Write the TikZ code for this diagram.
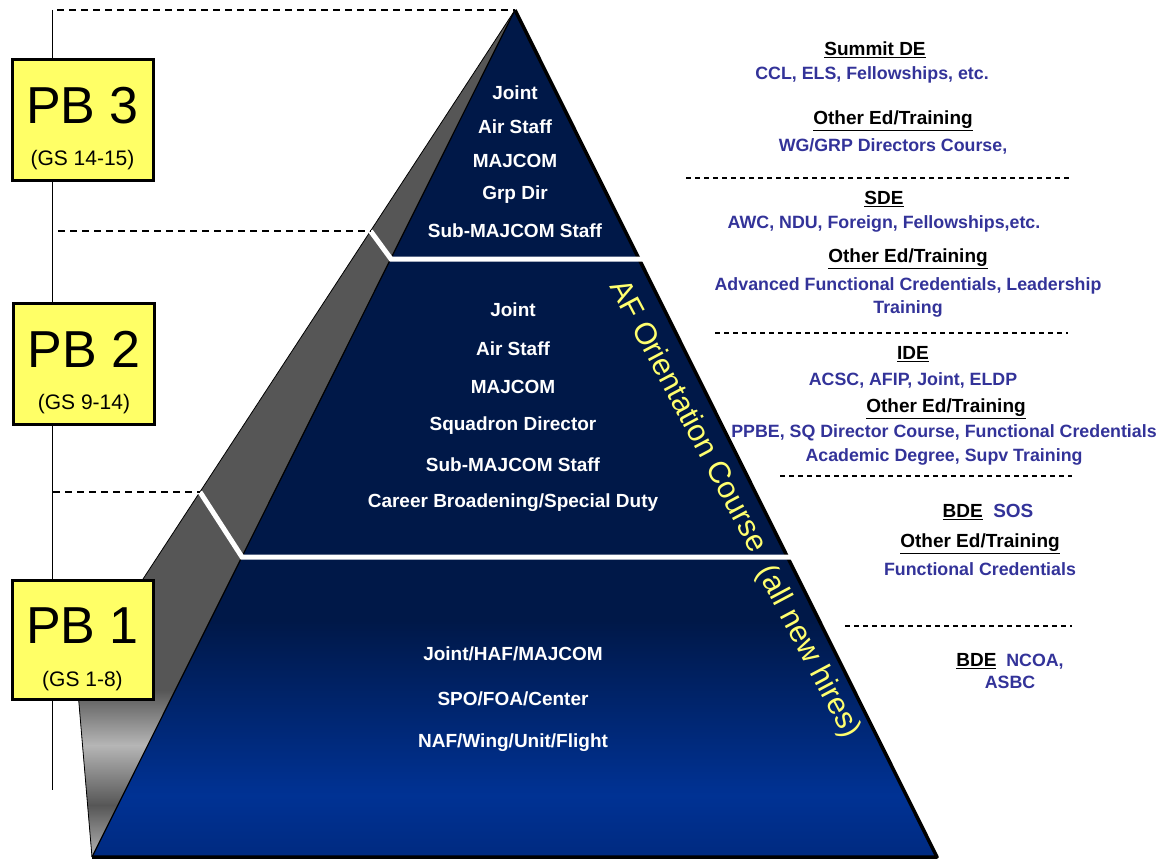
\documentclass[tikz,border=0pt]{standalone}
\usepackage{fontspec}
\setmainfont{Liberation Sans}
\usetikzlibrary{calc}

\definecolor{pbyellow}{RGB}{255,255,102}
\definecolor{navy}{RGB}{0,24,72}
\definecolor{deepblue}{RGB}{0,50,148}
\definecolor{botblue}{RGB}{0,42,128}
\definecolor{edblue}{RGB}{51,51,153}
\definecolor{shgray}{RGB}{86,86,86}
\definecolor{ltgray}{RGB}{182,182,182}
\definecolor{orientyellow}{RGB}{255,255,110}

\begin{document}
\begin{tikzpicture}[x=1pt, y=-1pt, node distance=34pt,
    pbbox/.style={draw, line width=3pt, fill=pbyellow, minimum width=141pt, minimum height=120pt, inner sep=0pt},
    pbtitle/.style={anchor=base, font=\fontsize{52}{52}\selectfont},
    pbgrade/.style={anchor=base, font=\fontsize{21}{24}\selectfont},
    rung/.style={text=white, font=\fontsize{19}{22}\selectfont\bfseries, inner sep=0pt},
    edhead/.style={font=\fontsize{19}{22}\selectfont\bfseries, inner sep=0pt},
    edtext/.style={text=edblue, font=\fontsize{17.8}{24}\selectfont\bfseries, inner sep=0pt, align=center},
    orientxt/.style={text=orientyellow, font=\fontsize{30.5}{32}\selectfont, rotate=-62, inner sep=0pt},
    edsplit/.style={dash pattern=on 5pt off 4pt, line width=1.1pt},
    gsline/.style={dash pattern=on 7pt off 5pt, line width=1.2pt}]

    \useasboundingbox (0,0) rectangle (1160,859);

    \coordinate (apex) at (515,10);
    \coordinate (bl) at (92,857);
    \coordinate (br) at (937,857);
    \coordinate (shc) at (77,680);
    \coordinate (s3) at (370.5,231);
    \coordinate (f3) at (391,259);
    \coordinate (r3) at (643,259);
    \coordinate (s2) at (200,492);
    \coordinate (f2) at (242,557);
    \coordinate (r2) at (792,557);
    \coordinate (gtop) at (52,10);
    \coordinate (gbot) at (52,790);

    % shadow side
    \fill[shgray] (apex) -- (shc) -- (bl) -- cycle;
    \begin{scope}
        \clip (apex) -- (shc) -- (bl) -- cycle;
        \shade[top color=shgray, bottom color=ltgray] (0,690) rectangle (600,745.5);
        \shade[top color=ltgray, bottom color=shgray] (0,745) rectangle (600,805.5);
        \shade[top color=shgray, bottom color=ltgray] (0,805) rectangle (600,858);
    \end{scope}
    \draw[line width=0.8pt] (apex) -- (shc) -- (bl);

    % front face
    \fill[navy] (apex) -- (bl) -- (br) -- cycle;
    \begin{scope}
        \clip (apex) -- (bl) -- (br) -- cycle;
        \shade[top color=navy, bottom color=deepblue] (0,620) rectangle (1000,795.5);
        \shade[top color=deepblue, bottom color=botblue] (0,795) rectangle (1000,858);
    \end{scope}
    \draw[line width=1.2pt] (apex) -- (bl);
    \draw[line width=3.5pt, line join=round] (bl) -- (br) -- (apex);

    \draw[white, line width=5pt] (s3) -- (f3) -- (r3);
    \draw[white, line width=5pt] (s2) -- (f2) -- (r2);

    % grade scale
    \draw[line width=1pt] (gtop) -- (gbot);
    \draw[gsline] (57,10) -- (apex);
    \draw[gsline] (58,231) -- (s3);
    \draw[gsline] (53,492) -- (s2);

    \node (pb3) [pbbox] at (82.5,120) {};
    \node (pb3t) [pbtitle] at (82.5,123) {PB 3};
    \node (pb3g) [pbgrade] at (82.5,165) {(GS 14-15)};

    \node (pb2) [pbbox, minimum height=121pt] at (84,363.5) {};
    \node (pb2t) [pbtitle] at (84,367) {PB 2};
    \node (pb2g) [pbgrade] at (84,409) {(GS 9-14)};

    \node (pb1) [pbbox, minimum height=119pt] at (82.5,639.5) {};
    \node (pb1t) [pbtitle] at (82.5,643) {PB 1};
    \node (pb1g) [pbgrade] at (82.5,686) {(GS 1-8)};

    % positions in the pyramid
    \node (a1) [rung] at (515,93) {Joint};
    \node (a2) [rung, below of=a1] {Air Staff};
    \node (a3) [rung, below of=a2] {MAJCOM};
    \node (a4) [rung, below of=a3] {Grp Dir};
    \node (a5) [rung, below of=a4, node distance=36pt] {Sub-MAJCOM Staff};

    \begin{scope}[node distance=38.6pt]
        \node (b1) [rung] at (513,310) {Joint};
        \node (b2) [rung, below of=b1] {Air Staff};
        \node (b3) [rung, below of=b2] {MAJCOM};
        \node (b4) [rung, below of=b3] {Squadron Director};
        \node (b5) [rung, below of=b4] {Sub-MAJCOM Staff};
        \node (b6) [rung, below of=b5] {Career Broadening/Special Duty};
    \end{scope}

    \begin{scope}[node distance=44.5pt]
        \node (c1) [rung] at (513,654) {Joint/HAF/MAJCOM};
        \node (c2) [rung, below of=c1] {SPO/FOA/Center};
        \node (c3) [rung, below of=c2] {NAF/Wing/Unit/Flight};
    \end{scope}

    \node (aoc) [orientxt] at (690,415) {AF Orientation Course};
    \node (anh) [orientxt] at (808,652) {(all new hires)};

    % education and training
    \node (sum) [edhead] at (875,50) {\underline{Summit DE}};
    \node (sumt) [edtext] at (872,75) {CCL, ELS, Fellowships, etc.};
    \node (oe1) [edhead] at (893,121) {\underline{Other Ed/Training}};
    \node (oe1t) [edtext] at (893,146) {WG/GRP Directors Course,};
    \draw[edsplit] (686,178) -- (1072,178);

    \node (sde) [edhead] at (884,199) {\underline{SDE}};
    \node (sdet) [edtext] at (884,224) {AWC, NDU, Foreign, Fellowships,etc.};
    \node (oe2) [edhead] at (908,259) {\underline{Other Ed/Training}};
    \node (oe2t) [edtext, font=\fontsize{17.8}{23}\selectfont\bfseries] at (908,297) {Advanced Functional Credentials, Leadership\\Training};
    \draw[edsplit] (715,333) -- (1068,333);

    \node (ide) [edhead] at (913,354) {\underline{IDE}};
    \node (idet) [edtext] at (913,380) {ACSC, AFIP, Joint, ELDP};
    \node (oe3) [edhead] at (946,409) {\underline{Other Ed/Training}};
    \node (oe3t) [edtext] at (944,445) {PPBE, SQ Director Course, Functional Credentials\\Academic Degree, Supv Training};
    \draw[edsplit] (780,476) -- (1072,476);

    \node (bde1) [edhead] at (988,512) {\underline{BDE}~~\textcolor{edblue}{SOS}};
    \node (oe4) [edhead] at (980,544) {\underline{Other Ed/Training}};
    \node (oe4t) [edtext] at (980,569) {Functional Credentials};
    \draw[edsplit] (845,626) -- (1072,626);

    \node (bde2) [edtext, font=\fontsize{17.8}{22}\selectfont\bfseries] at (1010,671) {\textcolor{black}{\fontsize{19}{22}\selectfont\underline{BDE}}~~NCOA,\\ASBC};

\end{tikzpicture}
\end{document}
